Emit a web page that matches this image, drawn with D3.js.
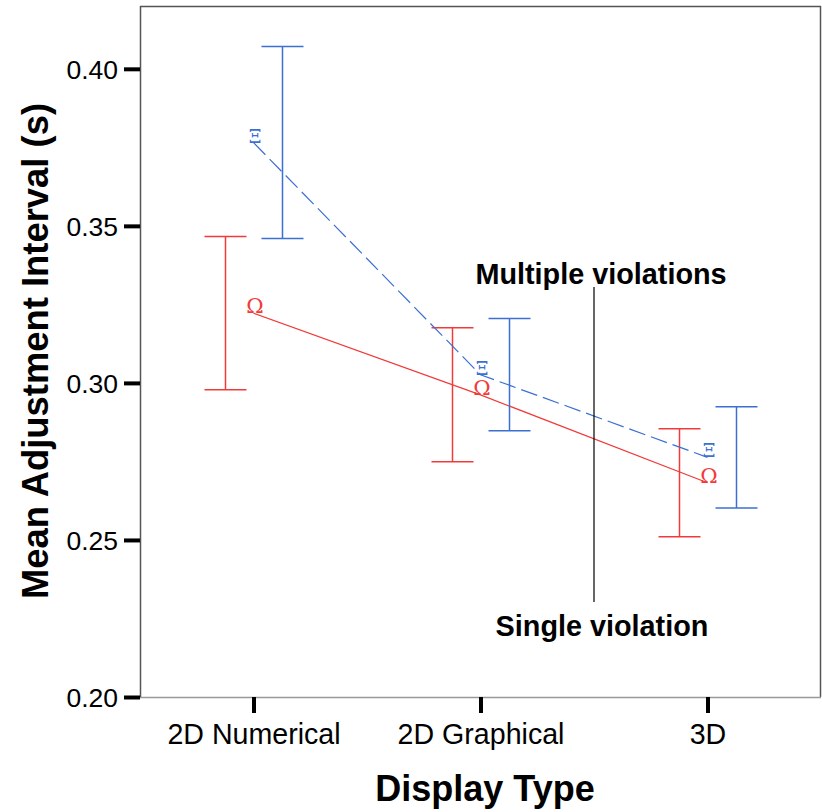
<!DOCTYPE html>
<html>
<head>
<meta charset="utf-8">
<script src="https://cdn.jsdelivr.net/npm/d3@7"></script>
<style>
  body { margin: 0; background: #fff; }
  svg { display: block; }
  text { font-family: "Liberation Sans", Arial, sans-serif; }
</style>
</head>
<body>
<svg id="chart" width="822" height="812"></svg>
<script>
const categories = ["2D Numerical", "2D Graphical", "3D"];
const seriesNames = ["Single violation", "Multiple violations"];
const singleMean  = [0.3222, 0.2962, 0.2682];
const singleLow   = [0.2978, 0.2749, 0.2510];
const singleHigh  = [0.3466, 0.3176, 0.2854];
const multiMean   = [0.3765, 0.3026, 0.2763];
const multiLow    = [0.3460, 0.2848, 0.2602];
const multiHigh   = [0.4071, 0.3205, 0.2924];
const yTicks = [0.20, 0.25, 0.30, 0.35, 0.40];

(function () {
const svg = d3.select("#chart");
const pL = 140, pR = 821, pT = 6, pB = 697;
const red = "#f23a3a", blue = "#3c6fd2";

const x = d3.scalePoint().domain(categories).range([pL, pR]).padding(0.5);
const y = d3.scaleLinear().domain([0.20, 0.42]).range([pB, pT]);

// frame
svg.append("line").attr("x1", pL).attr("x2", pR).attr("y1", pT + 0.5).attr("y2", pT + 0.5).attr("stroke", "#555").attr("stroke-width", 1.5);
svg.append("line").attr("x1", pR - 0.5).attr("x2", pR - 0.5).attr("y1", pT).attr("y2", pB).attr("stroke", "#555").attr("stroke-width", 1.5);
svg.append("line").attr("x1", pL).attr("x2", pR).attr("y1", pB + 0.5).attr("y2", pB + 0.5).attr("stroke", "#999").attr("stroke-width", 1.5);
svg.append("line").attr("x1", pL + 0.5).attr("x2", pL + 0.5).attr("y1", pT).attr("y2", pB).attr("stroke", "#555").attr("stroke-width", 1.5);

// y axis
const yAxis = svg.append("g").attr("transform", `translate(${pL},0)`)
  .call(d3.axisLeft(y).tickValues(yTicks).tickFormat(d3.format(".2f")).tickSize(16).tickPadding(6));
yAxis.select(".domain").remove();
yAxis.selectAll(".tick line").attr("stroke", "#000").attr("stroke-width", 4);
yAxis.selectAll(".tick text").attr("font-size", 26.5).attr("fill", "#000").attr("dy", "0.36em")
  .style("font-family", "'Liberation Sans', Arial, sans-serif");

// x axis
const xAxis = svg.append("g").attr("transform", `translate(0,${pB})`)
  .call(d3.axisBottom(x).tickSize(16).tickPadding(11));
xAxis.select(".domain").remove();
xAxis.selectAll(".tick line").attr("stroke", "#000").attr("stroke-width", 4);
xAxis.selectAll(".tick text").attr("font-size", 28.6).attr("fill", "#000")
  .style("font-family", "'Liberation Sans', Arial, sans-serif");

// titles
svg.append("text").attr("x", 485).attr("y", 801).attr("text-anchor", "middle")
  .attr("font-size", 36).attr("font-weight", "bold").text("Display Type");
svg.append("text").attr("transform", "translate(48,351) rotate(-90)").attr("text-anchor", "middle")
  .attr("font-size", 36.4).attr("font-weight", "bold").text("Mean Adjustment Interval (s)");

const series = [
  { name: seriesNames[0], mean: singleMean, low: singleLow, high: singleHigh, color: red, off: -28, dash: null, glyph: "Ω", gs: 21 },
  { name: seriesNames[1], mean: multiMean, low: multiLow, high: multiHigh, color: blue, off: 29, dash: "17,6", glyph: "Ξ", gs: 18 }
];

series.forEach(s => {
  const pts = categories.map((c, i) => [x(c), y(s.mean[i])]);
  svg.append("path").attr("d", d3.line()(pts)).attr("fill", "none")
    .attr("stroke", s.color).attr("stroke-width", 1.2)
    .attr("stroke-dasharray", s.dash);
  categories.forEach((c, i) => {
    const cx = x(c) + s.off;
    const g = svg.append("g").attr("stroke", s.color).attr("stroke-width", 1.5);
    g.append("line").attr("x1", cx).attr("x2", cx).attr("y1", y(s.low[i])).attr("y2", y(s.high[i]));
    g.append("line").attr("x1", cx - 21).attr("x2", cx + 21).attr("y1", y(s.low[i])).attr("y2", y(s.low[i]));
    g.append("line").attr("x1", cx - 21).attr("x2", cx + 21).attr("y1", y(s.high[i])).attr("y2", y(s.high[i]));
    svg.append("text").attr("x", x(c) + 1.5).attr("y", y(s.mean[i]))
      .attr("text-anchor", "middle").attr("font-size", s.gs)
      .style("font-family", "'DejaVu Serif', 'Liberation Serif', serif")
      .attr("fill", s.color).text(s.glyph);
  });
});

// annotations
const annX = 594;
svg.append("line").attr("x1", annX).attr("x2", annX).attr("y1", 287).attr("y2", 602)
  .attr("stroke", "#000").attr("stroke-width", 1.2);
svg.append("text").attr("x", 601).attr("y", 284).attr("text-anchor", "middle")
  .attr("font-size", 28.8).attr("font-weight", "bold").text(seriesNames[1]);
svg.append("text").attr("x", 602).attr("y", 636).attr("text-anchor", "middle")
  .attr("font-size", 28.8).attr("font-weight", "bold").text(seriesNames[0]);
})();
</script>
</body>
</html>
